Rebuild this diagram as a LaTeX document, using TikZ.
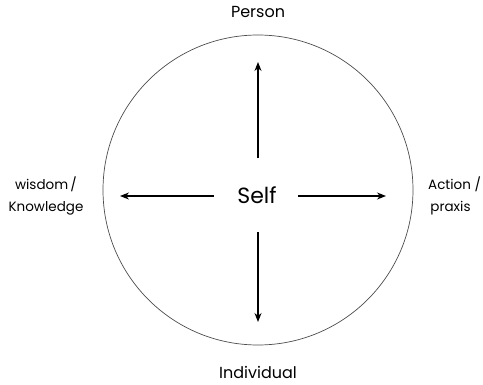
\documentclass[tikz,border=0pt]{standalone}
\usepackage{fontspec}
\setmainfont{Poppins}
\usetikzlibrary{arrows.meta}

\begin{document}
\begin{tikzpicture}[x=1pt,y=1pt,
    lbl/.style={font=\fontsize{16}{19}\selectfont, align=center},
    side/.style={font=\fontsize{13.5}{22}\selectfont},
    ray/.style={-{Stealth[length=9pt,width=7pt]}, line width=1.1pt}]
    \useasboundingbox (0,0) rectangle (483,384);
    \draw[line width=0.7pt, black!70] (258,194) circle (155);
    \node (self) at (257,189) {\fontsize{22}{26}\selectfont Self};
    % arrow ends
    \coordinate (up) at (258,322);
    \coordinate (down) at (258,62);
    \coordinate (left) at (120,188);
    \coordinate (right) at (386,188);
    \draw[ray] (258,226) -- (up);
    \draw[ray] (258,152) -- (down);
    \draw[ray] ([xshift=-20pt]self.west |- left) -- (left);
    \draw[ray] ([xshift=18pt]self.east |- right) -- (right);
    % labels
    \node[lbl] (person) at (258,372) {Person};
    \node[lbl] (indiv) at (258,12) {Individual};
    \node[side, align=center] (wisdom) at (46,188) {wisdom\,/\\Knowledge};
    \node[side, align=left, anchor=west, inner sep=1pt] (action) at (427,188) {Action /\\\,praxis};
\end{tikzpicture}
\end{document}
